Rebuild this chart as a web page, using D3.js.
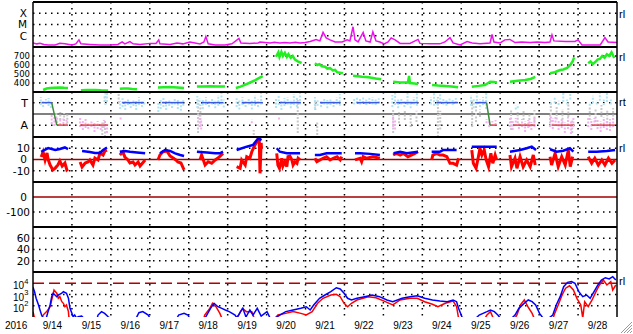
<!DOCTYPE html>
<html><head><meta charset="utf-8">
<script src="https://cdn.jsdelivr.net/npm/d3@7"></script>
<style>body{margin:0;background:#fff}svg{display:block}</style>
</head><body><svg id="c" width="633" height="334"></svg>
<script>
// ---------------- DATA ----------------
const dayTicks = [14,15,16,17,18,19,20,21,22,23,24,25,26,27,28];
const dayLabels = ["9/14","9/15","9/16","9/17","9/18","9/19","9/20","9/21","9/22","9/23","9/24","9/25","9/26","9/27","9/28"];
const yearLabel = "2016";
const xrayTicks = [[1e-4,"X"],[1e-5,"M"],[1e-6,"C"]];
const speedTicks = [700,600,500,400];
const bzTicks = [10,0,-10];
const dstTicks = [0,-100];
const kpTicks = [60,40,20];
const fluxTicks = [[1e4,"4"],[1e3,"3"],[1e2,"2"]];

// X-ray flux (W/m2) [day of Sept, flux]
const xray = [[14.00,2.3e-7],[14.10,1.9e-7],[14.18,2.1e-7],[14.28,1.7e-7],[14.39,1.5e-7],[14.57,1.5e-7],[14.69,2.1e-7],[14.82,1.9e-7],[15.00,1.5e-7],[15.10,1.9e-7],[15.18,4.3e-7],[15.23,1.9e-7],[15.46,1.7e-7],[15.72,1.5e-7],[15.98,1.5e-7],[16.18,1.7e-7],[16.29,2.8e-7],[16.36,1.9e-7],[16.49,3.0e-7],[16.57,1.9e-7],[16.75,1.7e-7],[17.01,2.1e-7],[17.16,2.1e-7],[17.23,4.3e-7],[17.26,1.9e-7],[17.52,1.7e-7],[17.70,2.3e-7],[17.85,1.9e-7],[18.03,2.8e-7],[18.16,2.3e-7],[18.29,1.9e-7],[18.39,2.8e-7],[18.44,8.5e-7],[18.50,1.9e-7],[18.68,1.5e-7],[18.93,1.5e-7],[19.11,1.9e-7],[19.29,5.8e-7],[19.34,2.3e-7],[19.57,2.1e-7],[19.78,2.3e-7],[19.83,2.8e-7],[20.09,2.3e-7],[20.20,2.6e-7],[20.34,2.3e-7],[20.47,2.5e-7],[20.60,2.3e-7],[20.74,2.6e-7],[20.86,2.3e-7],[20.99,2.5e-7],[21.12,3.1e-7],[21.27,4.7e-7],[21.37,3.5e-7],[21.45,2.0e-6],[21.53,6.5e-7],[21.63,4.3e-7],[21.76,2.8e-7],[21.94,2.8e-7],[22.07,4.3e-7],[22.14,3.5e-7],[22.22,6.3e-6],[22.27,4.3e-7],[22.35,2.8e-7],[22.48,2.0e-6],[22.55,3.5e-7],[22.66,2.8e-7],[22.73,2.2e-6],[22.81,3.5e-7],[22.91,2.8e-7],[23.02,1.9e-7],[23.12,2.8e-7],[23.20,6.5e-7],[23.30,4.3e-7],[23.43,2.1e-7],[23.68,2.1e-7],[23.89,4.7e-7],[23.94,2.1e-7],[24.20,1.9e-7],[24.45,1.9e-7],[24.58,2.8e-7],[24.71,6.9e-7],[24.79,2.3e-7],[24.97,1.5e-7],[25.15,3.0e-7],[25.28,2.3e-7],[25.48,1.9e-7],[25.74,2.3e-7],[25.79,1.3e-6],[25.84,2.8e-7],[26.00,2.3e-7],[26.12,4.3e-7],[26.25,4.7e-7],[26.38,2.5e-7],[26.55,2.8e-7],[26.77,2.5e-7],[26.95,2.8e-7],[27.15,2.5e-7],[27.28,2.8e-7],[27.33,1.2e-6],[27.38,3.5e-7],[27.67,3.1e-7],[27.92,3.1e-7],[28.00,4.3e-7],[28.10,1.5e-7],[28.31,1.5e-7],[28.57,1.5e-7],[28.69,6.9e-7],[28.77,2.8e-7],[29.00,2.5e-7]];

// Solar wind speed (km/s), null = data gap
const windSpeed = [
 [14.26,322],[14.35,338],[14.44,344],[14.55,348],[14.69,350],[14.80,346],[14.90,344], null,
 [15.23,320],[15.40,322],[15.59,322],[15.75,319],[15.93,318], null,
 [16.23,335],[16.33,338],[16.44,340],[16.55,334],[16.67,330], null,
 [17.21,350],[17.35,352],[17.52,355],[17.70,350],[17.88,345], null,
 [18.21,360],[18.38,362],[18.55,365],[18.75,362],[18.93,360], null,
 [19.21,345],[19.33,360],[19.44,380],[19.55,400],[19.70,430],[19.80,455],[19.90,477], null,
 [20.24,692],[20.30,740],[20.33,690],[20.38,745],[20.42,700],[20.47,735],[20.52,690],[20.56,720],[20.62,680],[20.67,700],[20.73,660],[20.80,640],[20.90,622], null,
 [21.24,619],[21.30,600],[21.36,610],[21.42,585],[21.50,580],[21.56,560],[21.63,565],[21.70,540],[21.76,545],[21.81,520],[21.88,515],[21.96,508], null,
 [22.22,481],[22.35,475],[22.45,470],[22.55,466],[22.66,461],[22.80,450],[22.94,441], null,
 [23.25,414],[23.43,405],[23.63,405],[23.66,478],[23.68,400],[23.80,395],[23.89,389], null,
 [24.25,378],[24.40,372],[24.58,367],[24.75,360],[24.92,352], null,
 [25.27,359],[25.45,368],[25.61,378],[25.74,414],[25.84,410],[25.92,406], null,
 [26.25,414],[26.45,424],[26.64,433],[26.78,445],[26.90,467], null,
 [27.28,508],[27.40,520],[27.54,544],[27.62,550],[27.72,567],[27.80,600],[27.86,640],[27.90,685], null,
 [28.26,619],[28.32,640],[28.38,610],[28.44,633],[28.50,660],[28.56,667],[28.62,700],[28.68,680],[28.74,720],[28.80,700],[28.86,740],[28.93,678]
];

// IMF sector: angle clouds [day, low deg, high deg]
const phiToward = [[14.20,296,360],[14.26,280,336],[14.33,304,344],[14.40,288,352],[14.46,272,330],[15.86,296,400],[15.90,320,392],
 [16.24,264,330],[16.30,280,350],[16.37,256,340],[16.44,296,352],[16.51,272,320],[16.58,288,344],[16.65,256,330],[16.72,296,360],[16.80,280,336],[16.86,300,330],
 [17.22,240,320],[17.28,264,336],[17.35,280,352],[17.42,256,330],[17.50,288,344],[17.57,272,320],[17.64,300,352],[17.72,264,336],[17.80,250,330],[17.86,290,340],
 [18.22,272,368],[18.28,290,350],[18.36,264,340],[18.44,296,360],[18.52,280,336],[18.60,300,352],[18.68,270,330],[18.76,290,376],[18.84,300,392],[18.90,276,340],
 [19.23,280,350],[19.30,260,340],[19.38,296,360],[19.46,280,330],[19.54,300,352],[19.62,260,330],[19.70,290,376],[19.78,280,340],[19.86,300,392],
 [20.24,272,350],[20.31,296,380],[20.38,256,336],[20.46,288,352],[20.54,300,360],[20.62,270,330],[20.70,296,384],[20.78,280,352],[20.86,300,392],
 [21.24,264,360],[21.31,290,340],[21.40,280,330],[21.48,300,352],[21.56,270,336],[21.64,296,344],[21.72,280,330],[21.80,300,360],[21.88,290,384],
 [22.25,300,350],[22.32,310,360],[22.40,300,344],[22.48,312,368],[22.56,296,344],[22.64,310,352],[22.72,300,360],[22.80,296,340],[22.88,310,350],
 [23.23,280,376],[23.30,296,400],[23.38,270,340],[23.46,300,352],[23.54,280,336],[23.62,296,392],[23.70,270,330],[23.78,300,360],[23.86,290,400],
 [24.22,300,360],[24.30,290,392],[24.38,296,344],[24.46,310,400],[24.54,300,352],[24.62,290,344],[24.70,304,360],[24.78,296,336],[24.86,310,352],
 [25.25,290,376],[25.32,270,352],[25.40,300,392],[25.48,280,340],[25.56,296,360],[25.64,264,400],
 [26.40,260,290],[26.45,270,300],
 [27.30,300,330],[27.40,310,360],[27.50,296,330],[27.62,320,400],[27.72,300,340],[27.80,340,392],
 [28.30,290,320],[28.38,310,370],[28.48,300,330],[28.56,330,400],[28.66,296,344],[28.74,320,392],[28.84,300,340]];
const phiAway = [[14.48,144,216],[14.55,128,200],[14.62,150,192],[14.70,136,180],[14.78,144,200],[14.86,136,176],
 [15.21,120,200],[15.28,96,176],[15.35,112,184],[15.42,104,160],[15.50,120,176],[15.58,80,160],[15.66,104,168],[15.74,96,150],[15.82,112,176],[15.90,72,140],
 [16.25,180,200],[18.28,120,216],[18.32,100,176],[19.62,150,180],[20.32,180,200],[23.25,120,216],[23.30,100,180],
 [25.65,150,184],[25.72,120,176],[25.80,128,168],[25.88,136,176],
 [26.25,120,200],[26.32,96,176],[26.40,128,192],[26.48,104,160],[26.56,120,184],[26.64,80,168],[26.72,112,176],[26.80,96,160],[26.88,120,192],
 [27.28,120,216],[27.35,104,192],[27.42,128,200],[27.50,96,176],[27.58,112,184],[27.66,72,160],[27.74,104,200],[27.82,64,168],[27.88,120,192],
 [28.26,120,200],[28.34,96,184],[28.42,128,192],[28.50,104,176],[28.58,80,168],[28.66,112,200],[28.74,96,176],[28.82,88,184],[28.90,120,192]];
const phiOther = [[14.60,160,232],[14.70,176,240],[14.80,168,232],[14.88,150,220],[15.78,56,160],[15.85,40,176],[15.84,320,376],[16.20,312,392],
 [18.24,72,336],[18.30,120,296],[19.67,56,96],[20.80,72,336],[21.30,56,160],[21.25,256,336],
 [23.25,72,256],[23.40,150,240],[23.55,176,250],[23.70,120,232],[23.85,160,250],[24.40,40,360],[24.46,100,250],
 [25.28,120,344],[25.38,160,290],[25.48,200,260],
 [26.28,96,256],[26.45,150,240],[26.60,176,250],[26.75,120,232],[26.88,160,256],
 [27.30,160,312],[27.45,180,280],[27.60,150,264],[27.75,200,304],[27.85,72,176],
 [28.30,176,280],[28.45,160,264],[28.60,200,296],[28.75,150,250],[28.90,176,272]];
const towardSectors = [[14.22,14.48],[16.29,16.85],[17.31,17.86],[18.33,18.89],[19.36,19.90],[20.34,20.88],[21.37,21.89],[22.31,22.90],[23.33,23.89],[24.37,24.92],[25.35,25.65]];
const awaySectors = [[14.61,14.90],[15.21,15.93],[25.74,25.91],[26.33,26.90],[27.32,27.87],[28.35,28.95]];
const sectorBoundaries = [[14.48,14.61],[25.65,25.74]];
const towardAngle = 315, awayAngle = 135, midAngle = 225;

// IMF Bt and Bz (nT)
const bt = [
 [14.21,6.9],[14.39,10.2],[14.57,8.4],[14.69,9.3],[14.82,10.7],[14.90,9.3], null,
 [15.26,7.6],[15.46,6.7],[15.59,5.8],[15.72,5.8],[15.80,8.4],[15.90,10.7], null,
 [16.23,6.9],[16.36,7.6],[16.49,6.9],[16.67,6.2],[16.88,5.5], null,
 [17.26,5.5],[17.39,8.4],[17.52,7.6],[17.65,5.5],[17.78,4.0],[17.88,3.1], null,
 [18.21,6.9],[18.47,6.2],[18.68,5.5],[18.80,5.5],[18.88,6.9], null,
 [19.23,8.4],[19.49,11.4],[19.65,12.9],[19.75,17.3],[19.79,18.8],[19.87,17.3], null,
 [20.26,10.0],[20.34,6.9],[20.52,5.5],[20.69,5.5],[20.86,5.5], null,
 [21.24,4.0],[21.37,4.0],[21.54,5.5],[21.71,5.5],[21.93,5.5], null,
 [22.27,5.5],[22.40,5.5],[22.66,5.0],[22.91,4.0], null,
 [23.26,5.5],[23.43,6.9],[23.60,5.5],[23.89,6.9], null,
 [24.24,6.9],[24.45,6.9],[24.53,8.4],[24.88,8.4], null,
 [25.27,11.4],[25.56,11.4],[25.74,11.4],[25.91,11.4], null,
 [26.25,6.9],[26.51,8.4],[26.68,10.0],[26.81,11.4],[26.92,8.4], null,
 [27.28,9.1],[27.45,6.9],[27.62,7.8],[27.79,10.0],[27.88,6.9], null,
 [28.26,6.9],[28.48,6.9],[28.74,7.6],[28.95,8.4]
];
const bz = [
 [14.21,2.2],[14.26,6.7],[14.31,-0.4],[14.36,5.8],[14.39,0],[14.44,-4.9],[14.51,-9.3],[14.57,-7.6],[14.64,-4.9],[14.69,-1.3],[14.75,-5.8],[14.82,-3.1],[14.87,-9.3],[14.90,-8.5], null,
 [15.21,-2.2],[15.26,-6.7],[15.34,-3.1],[15.41,-2.2],[15.46,-0.4],[15.54,-4.9],[15.59,1.3],[15.67,-0.4],[15.72,5.8],[15.80,4.0],[15.85,7.6],[15.90,8.4], null,
 [16.23,4.0],[16.31,6.9],[16.36,2.2],[16.44,-0.4],[16.49,-3.1],[16.57,-2.2],[16.62,-4.9],[16.70,-2.2],[16.75,-5.8],[16.88,-0.4], null,
 [17.21,-0.4],[17.26,4.0],[17.34,6.9],[17.44,7.6],[17.52,3.1],[17.60,1.3],[17.67,-0.4],[17.72,-2.2],[17.80,-3.1],[17.88,-9.3], null,
 [18.29,-0.4],[18.33,4.0],[18.42,-4.9],[18.50,-2.0],[18.59,-3.4],[18.68,-0.4],[18.75,1.3],[18.84,4.0],[18.88,5.5], null,
 [19.23,-6.4],[19.32,-7.8],[19.36,-0.4],[19.45,-4.9],[19.49,2.5],[19.57,1.1],[19.62,6.9],[19.70,12.9],[19.75,15.8],[19.79,19.0],[19.81,20.0],[19.83,-12.3],[19.86,14.7],[19.87,10.0], null,
 [20.26,5.5],[20.29,-4.9],[20.33,-7.8],[20.39,1.1],[20.42,-5.8],[20.47,-2.0],[20.52,-6.4],[20.55,2.5],[20.60,3.1],[20.65,-0.4],[20.68,-4.9],[20.73,-2.0],[20.78,-3.4],[20.81,1.1],[20.86,-0.4], null,
 [21.24,1.1],[21.29,-2.0],[21.37,-0.4],[21.45,1.1],[21.54,2.5],[21.63,-0.4],[21.71,1.1],[21.81,2.5],[21.89,-0.4],[21.93,2.5], null,
 [22.27,-0.4],[22.40,1.1],[22.44,-2.0],[22.48,2.5],[22.57,1.1],[22.73,2.5],[22.91,1.1], null,
 [23.25,4.0],[23.34,5.5],[23.43,4.0],[23.51,5.5],[23.63,2.5],[23.73,4.0],[23.81,5.5],[23.89,6.9], null,
 [24.24,-0.4],[24.27,4.0],[24.37,5.5],[24.45,4.0],[24.53,4.0],[24.63,2.5],[24.71,-3.4],[24.79,-3.4],[24.88,-4.9],[24.93,1.1], null,
 [25.27,8.4],[25.31,-3.4],[25.38,-7.8],[25.44,2.5],[25.48,10.0],[25.53,4.0],[25.59,8.4],[25.64,-0.4],[25.70,-6.4],[25.76,5.5],[25.81,-3.4],[25.87,4.0],[25.91,-0.4], null,
 [26.25,4.0],[26.29,-6.4],[26.38,1.1],[26.43,-7.8],[26.51,2.5],[26.59,-6.4],[26.68,-0.4],[26.77,-6.4],[26.85,4.0],[26.90,-4.9], null,
 [27.28,2.5],[27.32,-4.9],[27.41,5.5],[27.49,-6.4],[27.58,2.5],[27.67,-4.9],[27.75,8.4],[27.80,-6.4],[27.86,2.5], null,
 [28.26,2.5],[28.35,-3.4],[28.43,1.1],[28.52,-4.9],[28.61,-0.4],[28.69,-4.9],[28.78,1.1],[28.87,-3.4],[28.95,-0.4]
];

// Electron flux (blue: channel 1, red: channel 2)
const fluxBlue = [[14.00,4500],[14.04,1800],[14.08,460],[14.14,120],[14.18,42],[14.22,15],[14.26,8],[14.34,8],[14.38,25],[14.44,117],[14.48,640],[14.52,1300],[14.61,640],[14.65,900],[14.74,1300],[14.78,1800],[14.86,1300],[14.91,460],[14.95,59],[15.00,21],[15.03,10.6],[15.07,15],[15.12,8],[15.16,10.6],[15.25,12],[15.30,8],[15.65,8],[15.67,15],[15.76,30],[15.84,21],[15.93,10.6],[15.97,8],[16.65,8],[16.72,24],[16.82,30],[16.96,15],[17.00,8],[17.70,8],[17.74,15],[17.88,21],[17.98,15],[18.02,8],[18.42,8],[18.56,59],[18.65,165],[18.75,82],[18.85,59],[18.94,42],[19.04,30],[19.19,15],[19.24,8],[19.33,30],[19.39,59],[19.47,10],[19.57,42],[19.65,15],[19.76,59],[19.86,12],[20.01,30],[20.09,8],[20.22,8],[20.34,15],[20.49,30],[20.68,42],[20.88,59],[21.02,82],[21.12,42],[21.21,117],[21.36,460],[21.50,900],[21.65,1800],[21.79,4000],[21.89,3100],[21.99,1300],[22.08,460],[22.18,325],[22.32,460],[22.52,640],[22.71,900],[22.90,640],[23.09,325],[23.24,230],[23.48,460],[23.68,640],[23.87,780],[24.06,460],[24.26,325],[24.45,265],[24.64,230],[24.79,325],[24.88,230],[24.93,59],[25.03,8],[25.38,8],[25.46,15],[25.66,30],[25.75,42],[25.85,30],[25.94,15],[26.00,8],[26.30,8],[26.38,15],[26.48,59],[26.62,165],[26.72,325],[26.82,230],[26.91,117],[27.01,21],[27.10,8],[27.25,8],[27.35,15],[27.44,117],[27.54,640],[27.63,4900],[27.73,12000],[27.83,14000],[27.92,9900],[28.02,1800],[28.12,640],[28.22,900],[28.31,460],[28.41,1800],[28.51,7000],[28.60,19000],[28.70,31000],[28.80,24000],[28.89,38000],[28.97,19000]];
const fluxRed = [[14.00,30],[14.03,10.6],[14.06,8],[14.24,8],[14.26,15],[14.35,30],[14.44,82],[14.51,900],[14.54,2500],[14.61,1300],[14.65,460],[14.69,640],[14.74,230],[14.78,165],[14.82,82],[14.86,117],[14.91,30],[14.92,10.6],[14.95,8],[18.39,8],[18.41,15],[18.54,59],[18.61,165],[18.70,82],[18.80,21],[18.85,8],[19.21,8],[19.28,15],[19.38,59],[19.48,30],[19.62,30],[19.68,8],[20.22,8],[20.29,15],[20.49,21],[20.68,30],[20.88,21],[21.02,15],[21.17,30],[21.31,165],[21.45,460],[21.65,900],[21.79,1040],[21.89,640],[21.99,165],[22.08,82],[22.18,165],[22.32,325],[22.61,640],[22.81,520],[23.05,230],[23.24,117],[23.43,325],[23.68,460],[23.87,460],[24.06,230],[24.26,135],[24.40,82],[24.59,165],[24.79,265],[24.88,82],[24.93,8],[25.61,8],[25.66,15],[25.75,30],[25.82,8],[26.38,8],[26.43,15],[26.52,117],[26.62,325],[26.71,82],[26.82,21],[26.87,8],[27.36,8],[27.40,21],[27.49,117],[27.59,900],[27.68,3600],[27.78,6000],[27.88,2500],[27.97,460],[28.07,117],[28.12,8],[28.17,230],[28.26,82],[28.36,325],[28.46,1800],[28.55,7000],[28.65,19000],[28.74,7000],[28.84,14000],[28.89,2500],[28.97,7000]];
const fluxAlert = 1e4;

// ---------------- DRAW ----------------
const svg = d3.select('#c');
const L = 33, R = 617;
const tops = [2, 47, 92, 137, 182, 227, 272], bottom = 317;
const x = d3.scaleLinear().domain([14, 29]).range([L, R]);
const yX = d3.scaleLog().domain([1e-7, 1e-3]).range([47, 2]);
const yV = d3.scaleLinear().domain([300, 800]).range([92, 47]);
const yP = d3.scaleLinear().domain([40, 400]).range([137, 92]);
const yB = d3.scaleLinear().domain([-20, 20]).range([182, 137]);
const yD = d3.scaleLinear().domain([-200, 100]).range([227, 182]);
const yK = d3.scaleLinear().domain([0, 80]).range([272, 227]);
const yE = d3.scaleLog().domain([10, 1e5]).range([317, 272]);
const FONT = "'Liberation Sans', Arial, Helvetica, sans-serif";
const YFONT = "'DejaVu Sans', Verdana, sans-serif";

const defs = svg.append('defs');
tops.forEach((t, i) => {
  const b = i < tops.length - 1 ? tops[i + 1] : bottom;
  defs.append('clipPath').attr('id', 'clip' + i).append('rect')
    .attr('x', L).attr('y', t).attr('width', R - L).attr('height', b - t);
});

const grid = svg.append('g');
function hdot(y) {
  grid.append('line').attr('x1', L).attr('x2', R).attr('y1', y).attr('y2', y)
    .attr('stroke', '#000').attr('stroke-width', 1.5).attr('stroke-dasharray', '1.5,4.5');
}
dayTicks.slice(1).forEach(d => {
  grid.append('line').attr('x1', x(d)).attr('x2', x(d)).attr('y1', tops[0]).attr('y2', bottom)
    .attr('stroke', '#000').attr('stroke-width', 1.5).attr('stroke-dasharray', '1.5,4.5');
});
xrayTicks.forEach(t => hdot(yX(t[0])));
speedTicks.forEach(v => hdot(yV(v)));
hdot(yP(towardAngle)); hdot(yP(awayAngle));
bzTicks.filter(v => v !== 0).forEach(v => hdot(yB(v)));
dstTicks.filter(v => v !== 0).forEach(v => hdot(yD(v)));
kpTicks.forEach(v => hdot(yK(v)));
fluxTicks.filter(t => t[0] !== fluxAlert).forEach(t => hdot(yE(t[0])));

grid.append('line').attr('x1', L).attr('x2', R).attr('y1', yP(midAngle)).attr('y2', yP(midAngle)).attr('stroke', '#808080').attr('stroke-width', 2);
grid.append('line').attr('x1', L).attr('x2', R).attr('y1', yB(0)).attr('y2', yB(0)).attr('stroke', '#a00000').attr('stroke-width', 1.5);
grid.append('line').attr('x1', L).attr('x2', R).attr('y1', yD(0)).attr('y2', yD(0)).attr('stroke', '#a00000').attr('stroke-width', 1.5);
grid.append('line').attr('x1', L).attr('x2', R).attr('y1', yE(fluxAlert)).attr('y2', yE(fluxAlert)).attr('stroke', '#b00000').attr('stroke-width', 1.5).attr('stroke-dasharray', '11,5');

// Panel 1: X-ray
svg.append('path').datum(xray).attr('clip-path', 'url(#clip0)')
  .attr('fill', 'none').attr('stroke', '#ee11ee').attr('stroke-width', 1.5)
  .attr('d', d3.line().x(d => x(d[0])).y(d => yX(d[1])));

// Panel 2: wind speed
svg.append('path').datum(windSpeed).attr('clip-path', 'url(#clip1)')
  .attr('fill', 'none').attr('stroke', '#22ee22').attr('stroke-width', 2.5)
  .attr('d', d3.line().defined(d => d).x(d => x(d[0])).y(d => yV(d[1])));

// Panel 3: sector
const g3 = svg.append('g').attr('clip-path', 'url(#clip2)');
function cloud(data, color) {
  g3.selectAll(null).data(data).enter().append('line')
    .attr('x1', d => x(d[0])).attr('x2', d => x(d[0]))
    .attr('y1', d => yP(d[1])).attr('y2', d => yP(d[2]))
    .attr('stroke', color).attr('stroke-width', 2).attr('stroke-dasharray', '2,1.5');
}
cloud(phiOther, '#c8c8c8');
cloud(phiAway, '#f4b0f0');
cloud(phiToward, '#aee4f4');
g3.selectAll(null).data(towardSectors).enter().append('line')
  .attr('x1', d => x(d[0])).attr('x2', d => x(d[1])).attr('y1', yP(towardAngle)).attr('y2', yP(towardAngle))
  .attr('stroke', '#3a5ae0').attr('stroke-width', 1.5);
g3.selectAll(null).data(awaySectors).enter().append('line')
  .attr('x1', d => x(d[0])).attr('x2', d => x(d[1])).attr('y1', yP(awayAngle)).attr('y2', yP(awayAngle))
  .attr('stroke', '#e04848').attr('stroke-width', 1.5);
g3.selectAll(null).data(sectorBoundaries).enter().append('line')
  .attr('x1', d => x(d[0])).attr('x2', d => x(d[1])).attr('y1', yP(towardAngle)).attr('y2', yP(awayAngle))
  .attr('stroke', '#3c8c3c').attr('stroke-width', 1.5);

// Panel 4: Bt, Bz
const lineB = d3.line().defined(d => d).x(d => x(d[0])).y(d => yB(d[1]));
svg.append('path').datum(bz).attr('clip-path', 'url(#clip3)')
  .attr('fill', 'none').attr('stroke', '#ff0000').attr('stroke-width', 3).attr('d', lineB);
svg.append('path').datum(bt).attr('clip-path', 'url(#clip3)')
  .attr('fill', 'none').attr('stroke', '#0000ff').attr('stroke-width', 2.5).attr('d', lineB);

// Panel 7: electron flux
const lineE = d3.line().x(d => x(d[0])).y(d => yE(Math.max(d[1], 8)));
svg.append('path').datum(fluxRed).attr('clip-path', 'url(#clip6)')
  .attr('fill', 'none').attr('stroke', '#ff0000').attr('stroke-width', 1.5).attr('d', lineE);
svg.append('path').datum(fluxBlue).attr('clip-path', 'url(#clip6)')
  .attr('fill', 'none').attr('stroke', '#0000ff').attr('stroke-width', 1.5).attr('d', lineE);

// frame
tops.forEach(t => svg.append('line').attr('x1', L).attr('x2', R).attr('y1', t).attr('y2', t).attr('stroke', '#000').attr('stroke-width', 2));
svg.append('line').attr('x1', L).attr('x2', L).attr('y1', tops[0]).attr('y2', bottom).attr('stroke', '#000').attr('stroke-width', 1.5);
svg.append('line').attr('x1', R).attr('x2', R).attr('y1', tops[0]).attr('y2', bottom).attr('stroke', '#000').attr('stroke-width', 1.5);

// labels
const lab = svg.append('g').attr('fill', '#000');
function ylab(txt, y, xr, fs) {
  lab.append('text').attr('x', xr).attr('y', y + fs * 0.36).attr('text-anchor', 'end')
    .attr('font-family', YFONT).attr('font-size', fs).text(txt);
}
xrayTicks.forEach(t => ylab(t[1], yX(t[0]), 27, 10.5));
speedTicks.forEach(v => ylab(v, yV(v), 30, 8.5));
ylab('T', yP(towardAngle), 28, 11); ylab('A', yP(awayAngle), 28, 11);
bzTicks.forEach(v => ylab(v, yB(v), v === 0 ? 27 : 30, 10.5));
dstTicks.forEach(v => ylab(v, yD(v), v === 0 ? 27 : 30, 10.5));
kpTicks.forEach(v => ylab(v, yK(v), 30, 10.5));
fluxTicks.forEach(t => {
  const y = yE(t[0]);
  const tx = lab.append('text').attr('x', 13).attr('y', y + 6).attr('font-family', FONT).attr('font-size', 10);
  tx.append('tspan').text('10');
  tx.append('tspan').attr('font-size', 7.5).attr('dy', -5.5).text(t[1]);
});
lab.append('text').attr('x', 5).attr('y', 329).attr('font-family', FONT).attr('font-size', 10).text(yearLabel);
dayTicks.forEach((d, i) => {
  lab.append('text').attr('x', x(d + 0.5)).attr('y', 329).attr('text-anchor', 'middle')
    .attr('font-family', FONT).attr('font-size', 10).text(dayLabels[i]);
});
[[14, 'rl'], [57, 'rl'], [102, 'rt'], [148, 'rl'], [281, 'rl']].forEach(m => {
  lab.append('text').attr('x', 619).attr('y', m[0] + 4).attr('font-family', FONT).attr('font-size', 11).text(m[1]);
});
[0, 3, 6, 9].forEach(o => svg.append('line').attr('x1', 621 + o).attr('y1', 333).attr('x2', 632).attr('y2', 322 + o)
  .attr('stroke', '#999').attr('stroke-width', 1));
</script>
</body></html>
